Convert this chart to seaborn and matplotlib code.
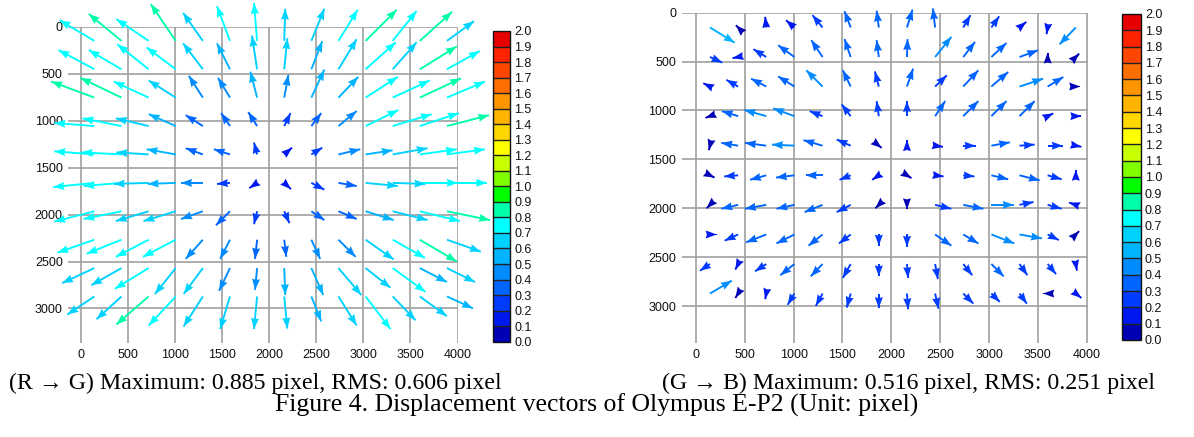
import numpy as np
import matplotlib
matplotlib.use("Agg")
import matplotlib.pyplot as plt
from matplotlib.colors import ListedColormap, BoundaryNorm
import seaborn as sns

# ---- sampling grid (image coordinates, pixels) ----
grid_x = [144, 432, 720, 1008, 1296, 1584, 1872, 2160, 2448, 2736, 3024, 3312, 3600, 3888]
grid_y = [151, 453, 755, 1058, 1360, 1663, 1965, 2268, 2570, 2872]

# ---- R -> G displacement (pixels), rows follow grid_y, columns grid_x ----
rg_dx = [
    [-0.67, -0.63, -0.62, -0.48, -0.38, -0.25, -0.06, 0.02, 0.25, 0.37, 0.60, 0.46, 0.62, 0.52],
    [-0.69, -0.63, -0.60, -0.56, -0.38, -0.25, -0.10, 0.06, 0.21, 0.35, 0.58, 0.46, 0.71, 0.63],
    [-0.83, -0.79, -0.67, -0.52, -0.27, -0.23, -0.13, 0.08, 0.25, 0.38, 0.62, 0.71, 0.79, 0.73],
    [-0.77, -0.75, -0.63, -0.52, -0.33, -0.17, -0.17, 0.12, 0.19, 0.35, 0.63, 0.75, 0.75, 0.81],
    [-0.77, -0.77, -0.62, -0.56, -0.33, -0.31, -0.06, 0.15, 0.21, 0.42, 0.52, 0.67, 0.71, 0.73],
    [-0.79, -0.73, -0.67, -0.54, -0.42, -0.25, -0.15, 0.13, 0.25, 0.35, 0.62, 0.63, 0.73, 0.77],
    [-0.77, -0.73, -0.63, -0.62, -0.42, -0.27, -0.06, 0.10, 0.25, 0.35, 0.54, 0.67, 0.77, 0.83],
    [-0.71, -0.67, -0.63, -0.63, -0.33, -0.19, -0.04, 0.04, 0.17, 0.33, 0.54, 0.62, 0.71, 0.65],
    [-0.62, -0.58, -0.65, -0.40, -0.37, -0.21, -0.04, 0.02, 0.23, 0.44, 0.48, 0.63, 0.52, 0.54],
    [-0.52, -0.48, -0.62, -0.52, -0.37, -0.19, -0.06, 0.06, 0.19, 0.35, 0.48, 0.44, 0.52, 0.50],
]
rg_dy = [
    [-0.40, -0.52, -0.42, -0.71, -0.54, -0.67, -0.73, -0.62, -0.62, -0.60, -0.60, -0.58, -0.56, -0.38],
    [-0.37, -0.37, -0.48, -0.42, -0.50, -0.50, -0.65, -0.60, -0.54, -0.58, -0.52, -0.52, -0.44, -0.35],
    [-0.31, -0.38, -0.31, -0.33, -0.42, -0.38, -0.50, -0.44, -0.54, -0.40, -0.40, -0.33, -0.37, -0.31],
    [-0.06, -0.15, -0.15, -0.23, -0.21, -0.25, -0.27, -0.25, -0.25, -0.29, -0.31, -0.23, -0.25, -0.21],
    [-0.06, -0.04, -0.04, -0.10, -0.12, -0.10, -0.23, -0.13, -0.13, -0.10, -0.08, -0.12, -0.10, -0.10],
    [0.08, 0.06, 0.02, 0.02, 0.00, 0.02, 0.10, 0.12, 0.13, 0.06, 0.06, 0.02, 0.00, 0.00],
    [0.20, 0.15, 0.19, 0.19, 0.15, 0.27, 0.25, 0.23, 0.17, 0.15, 0.17, 0.17, 0.19, 0.17],
    [0.25, 0.27, 0.33, 0.33, 0.37, 0.37, 0.37, 0.33, 0.37, 0.33, 0.38, 0.35, 0.42, 0.23],
    [0.29, 0.33, 0.40, 0.50, 0.50, 0.44, 0.42, 0.52, 0.52, 0.52, 0.38, 0.46, 0.27, 0.27],
    [0.35, 0.44, 0.54, 0.56, 0.58, 0.63, 0.63, 0.62, 0.48, 0.56, 0.63, 0.46, 0.38, 0.23],
]

# ---- G -> B displacement (pixels) ----
gb_dx = [
    [0.44, -0.04, -0.02, -0.15, -0.18, -0.11, -0.04, 0.10, -0.04, 0.13, 0.14, 0.12, -0.02, -0.29],
    [0.22, -0.10, -0.23, -0.29, -0.20, -0.11, -0.04, 0.01, 0.29, 0.21, 0.27, 0.33, 0.00, 0.06],
    [-0.12, -0.21, -0.27, -0.29, -0.29, -0.14, -0.07, 0.11, 0.21, 0.27, 0.30, 0.42, 0.28, 0.08],
    [-0.08, -0.29, -0.39, -0.38, -0.23, -0.16, -0.04, 0.00, 0.18, 0.27, 0.27, 0.27, 0.10, 0.10],
    [-0.02, -0.30, -0.38, -0.40, -0.34, -0.25, 0.05, 0.00, 0.14, 0.22, 0.33, 0.27, 0.27, 0.10],
    [0.08, -0.25, -0.29, -0.33, -0.30, -0.20, -0.12, 0.08, 0.15, 0.20, 0.30, 0.36, 0.25, 0.00],
    [-0.06, -0.30, -0.38, -0.32, -0.32, -0.25, -0.06, 0.00, 0.29, 0.36, 0.40, 0.25, 0.25, -0.12],
    [0.12, -0.24, -0.36, -0.32, -0.25, -0.21, 0.00, 0.00, 0.29, 0.27, 0.41, 0.40, 0.20, 0.06],
    [-0.18, -0.05, -0.20, -0.25, -0.21, -0.14, 0.00, 0.02, 0.05, 0.16, 0.22, 0.14, 0.15, 0.02],
    [0.39, -0.05, -0.02, -0.12, -0.12, -0.07, 0.00, 0.02, 0.06, 0.18, 0.15, 0.13, -0.08, 0.10],
]
gb_dy = [
    [0.27, -0.04, -0.19, -0.13, -0.22, -0.29, -0.30, -0.32, -0.34, -0.22, -0.20, -0.10, 0.12, 0.30],
    [0.10, 0.02, -0.14, -0.21, -0.30, -0.32, -0.30, -0.32, -0.36, -0.27, -0.25, -0.12, -0.08, -0.06],
    [-0.06, -0.12, -0.14, -0.18, -0.29, -0.29, -0.27, -0.32, -0.20, -0.29, -0.26, -0.14, -0.17, 0.00],
    [0.03, -0.09, -0.11, -0.14, -0.09, -0.21, -0.27, -0.27, -0.27, -0.27, -0.27, -0.27, -0.05, 0.00],
    [0.08, -0.05, -0.05, -0.02, -0.10, -0.11, 0.04, -0.10, 0.02, 0.00, -0.06, -0.02, 0.00, 0.02],
    [0.04, 0.02, 0.08, 0.04, 0.00, 0.08, 0.08, 0.05, 0.02, 0.02, 0.07, 0.09, 0.07, -0.10],
    [0.06, 0.07, 0.07, 0.07, 0.13, 0.13, 0.06, 0.08, 0.07, 0.07, 0.00, -0.05, 0.07, -0.04],
    [0.00, 0.11, 0.14, 0.16, 0.20, 0.16, 0.20, 0.22, 0.20, 0.16, 0.16, 0.07, 0.10, -0.06],
    [0.12, 0.10, 0.13, 0.20, 0.22, 0.25, 0.22, 0.25, 0.27, 0.20, 0.22, 0.20, 0.18, 0.12],
    [-0.23, 0.08, 0.10, 0.20, 0.22, 0.25, 0.26, 0.28, 0.27, 0.18, 0.15, 0.18, 0.00, 0.08],
]

# ---- colour scale: 20 steps from 0.0 to 2.0 pixel ----
level_edges = [round(0.1 * k, 1) for k in range(21)]
level_colors = [
    "#0000b4", "#0018f0", "#003cff", "#0064ff", "#008cff",
    "#00b4ff", "#00d2ff", "#00ffff", "#00ffaa", "#00ff00",
    "#80ff00", "#c8ff00", "#ffff00", "#ffd700", "#ffb400",
    "#ff9600", "#ff6e00", "#ff4600", "#ff2300", "#e60000",
]
cmap = ListedColormap(level_colors)
norm = BoundaryNorm(level_edges, cmap.N)

sns.set_theme(style="white")
plt.rcParams["font.family"] = ["Liberation Sans", "DejaVu Sans"]

fig = plt.figure(figsize=(11.94, 4.37), dpi=100)

panels = [
    dict(dx=rg_dx, dy=rg_dy, rect=[0.0572, 0.2144, 0.3266, 0.7245],
         cbar=[0.4126, 0.2181, 0.0145, 0.7110], xlim=(-133, 4008), ylim=(3371, 0),
         mag=552),
    dict(dx=gb_dx, dy=gb_dy, rect=[0.5709, 0.2144, 0.3405, 0.7565],
         cbar=[0.9395, 0.2220, 0.0159, 0.7460], xlim=(-146, 4015), ylim=(3381, 0),
         mag=573),
]

SHAFT_W = 1.9      # shaft width, screen pixels
HEAD_L = 11.0      # head length, screen pixels
HEAD_W = 8.0       # head width, screen pixels
THIN = 0.05        # near-zero shaft used by the head-only layer


def draw_vectors(ax, x, y, u, v, c, mag):
    common = dict(cmap=cmap, norm=norm, angles="xy", scale_units="xy",
                  scale=1.0 / mag, units="dots", minshaft=0, minlength=0,
                  pivot="tail", zorder=3)
    # shafts: plain bars from the grid point to the displaced point
    shafts = ax.quiver(x, y, u, v, c, width=SHAFT_W, headwidth=1,
                       headlength=0, headaxislength=0, **common)
    # heads: fixed-size filled triangles ending at the displaced point
    heads = ax.quiver(x, y, u, v, c, width=THIN, headwidth=HEAD_W / THIN,
                      headlength=HEAD_L / THIN,
                      headaxislength=0.9 * HEAD_L / THIN, **common)
    for q in (shafts, heads):
        q.set_clip_on(False)
    return heads


gx, gy = np.meshgrid(grid_x, grid_y)
for p in panels:
    ax = fig.add_axes(p["rect"])
    u = np.array(p["dx"])
    v = np.array(p["dy"])
    c = np.hypot(u, v)
    ax.set_xlim(*p["xlim"])
    ax.set_ylim(*p["ylim"])
    ax.set_xticks(range(0, 4001, 500))
    ax.set_yticks(range(0, 3001, 500))
    ax.tick_params(length=0, labelsize=9, pad=4, colors="#111111")
    ax.grid(True, color="#a0a0a0", lw=1.2)
    ax.set_axisbelow(True)
    sns.despine(ax=ax, left=True, bottom=True)
    q = draw_vectors(ax, gx, gy, u, v, c, p["mag"])

    cax = fig.add_axes(p["cbar"])
    cb = fig.colorbar(q, cax=cax, boundaries=level_edges, ticks=level_edges,
                      drawedges=True)
    cb.ax.set_yticklabels([f"{t:.1f}" for t in level_edges])
    cb.ax.tick_params(length=0, labelsize=9, pad=3, colors="#111111")
    cb.outline.set_edgecolor("#111111")
    cb.outline.set_linewidth(1.0)
    cb.dividers.set_color("#222222")
    cb.dividers.set_linewidth(1.0)

serif = ["Liberation Serif", "DejaVu Serif"]
fig.text(255 / 1194, 1 - 383 / 437,
         "(R \u2192 G) Maximum: 0.885 pixel, RMS: 0.606 pixel",
         ha="center", va="center", fontsize=17.2, family=serif, color="black")
fig.text(909 / 1194, 1 - 383 / 437,
         "(G \u2192 B) Maximum: 0.516 pixel, RMS: 0.251 pixel",
         ha="center", va="center", fontsize=17.2, family=serif, color="black")
fig.text(597 / 1194, 1 - 405 / 437,
         "Figure 4. Displacement vectors of Olympus E-P2 (Unit: pixel)",
         ha="center", va="center", fontsize=18.5, family=serif, color="black")

fig.savefig("out.png", dpi=100, facecolor="white")
